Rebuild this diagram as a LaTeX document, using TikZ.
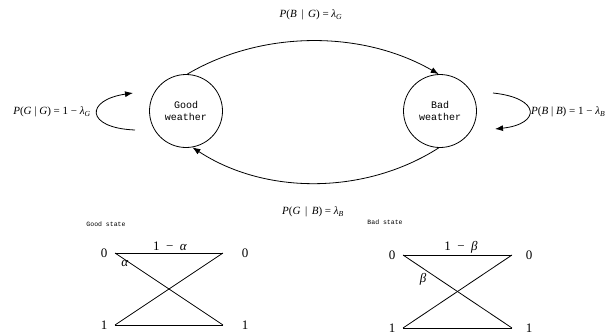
\documentclass[tikz,border=0pt]{standalone}
\usepackage{fontspec}
\setmainfont{Liberation Serif}
\newfontfamily\monof{Liberation Mono}
\usetikzlibrary{arrows.meta}
\begin{document}
\begin{tikzpicture}[x=1pt,y=-1pt,
  state/.style={circle,draw,line width=0.8pt,minimum size=73pt,inner sep=0pt,
    font=\monof\fontsize{10}{12.5}\selectfont,align=center},
  arr/.style={line width=0.8pt,-{Latex[length=8pt,width=6pt]}},
  prob/.style={font=\fontsize{11}{13}\selectfont,inner sep=0pt},
  stlabel/.style={font=\monof\fontsize{6.5}{8}\selectfont,inner sep=0pt},
  digit/.style={font=\fontsize{13}{15}\selectfont,inner sep=0pt},
  chan/.style={line width=0.8pt}]
\useasboundingbox (0,0) rectangle (612,335);

% weather states
\node[state] (good) at (186,111) {Good\\weather};
\node[state] (bad) at (440,111) {Bad\\weather};

% transitions between states
\draw[arr] (good.88) .. controls (262,30) and (362,30) .. (bad.92);
\draw[arr] (bad.-92) .. controls (365,195) and (265,195) .. (good.-80);

% self loops
\coordinate (ll1) at (135,130);
\coordinate (ll2) at (133,93);
\draw[arr] (ll1) .. controls (85,128) and (85,100) .. (ll2);
\coordinate (rl1) at (493,93);
\coordinate (rl2) at (495,129);
\draw[arr] (rl1) .. controls (541,98) and (541,124) .. (rl2);

% transition labels
\node[prob] (pbg) at (311,15) {\textit{P}(\textit{B} \,|\, \textit{G}) = \textit{λ}\textsubscript{\textit{G}}};
\node[prob] (pgg) at (52,112) {\textit{P}(\textit{G} | \textit{G}) = 1 − \textit{λ}\textsubscript{\textit{G}}};
\node[prob,anchor=west] (pbb) at (531,112) {\textit{P}(\textit{B} | \textit{B}) = 1 − \textit{λ}\textsubscript{\textit{B}}};
\node[prob] (pgb) at (313,212) {\textit{P}(\textit{G} \,|\, \textit{B}) = \textit{λ}\textsubscript{\textit{B}}};

% state labels
\node[stlabel] (gst) at (106,224) {Good state};
\node[stlabel] (bst) at (385,222) {Bad state};

% good channel
\coordinate (ga) at (115,253);
\coordinate (gb) at (223,253);
\coordinate (gc) at (115,325);
\coordinate (gd) at (223,325);
\node[digit] (g0l) at (104,253) {0};
\node[digit] (g0r) at (245,253) {0};
\node[digit] (g1l) at (104,325) {1};
\node[digit] (g1r) at (245,325) {1};
\draw[chan] (ga) -- (gb);
\draw[chan] (gc) -- (gd);
\draw[chan] (ga) -- (gd);
\draw[chan] (gc) -- (gb);
\node[digit] (galpha1) at (170,246) {1 \ − \ \textit{α}};
\node[digit] (galpha) at (125,263) {\textit{α}};

% bad channel
\coordinate (ba) at (403,255);
\coordinate (bb) at (512,255);
\coordinate (bc) at (403,328);
\coordinate (bd) at (512,328);
\node[digit] (b0l) at (392,255) {0};
\node[digit] (b0r) at (529,255) {0};
\node[digit] (b1l) at (392,328) {1};
\node[digit] (b1r) at (529,328) {1};
\draw[chan] (ba) -- (bb);
\draw[chan] (bc) -- (bd);
\draw[chan] (ba) -- (bd);
\draw[chan] (bc) -- (bb);
\node[digit] (bbeta1) at (461,247) {1 \ − \ \textit{β}};
\node[digit] (bbeta) at (423,279) {\textit{β}};
\end{tikzpicture}
\end{document}
